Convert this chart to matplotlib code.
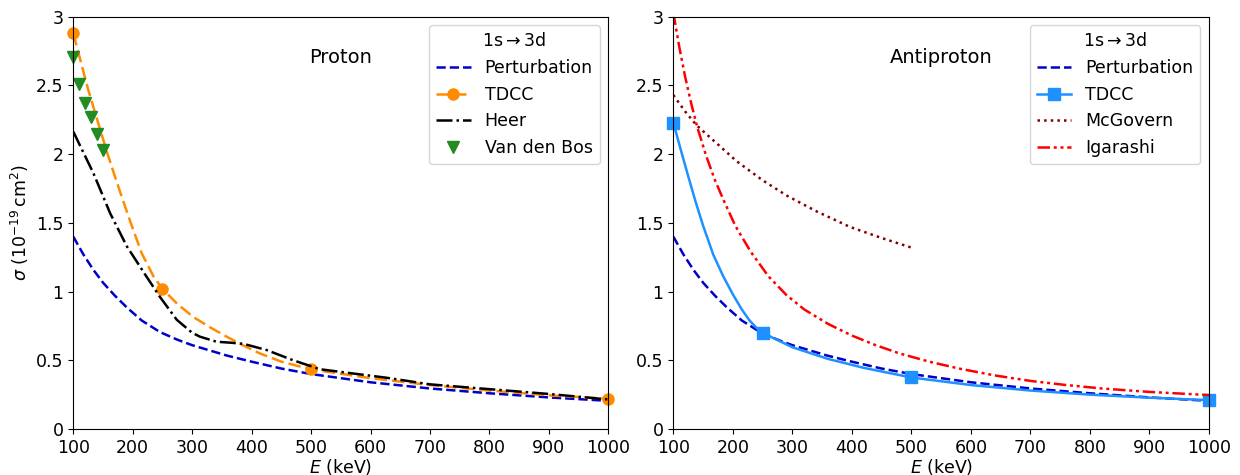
import matplotlib
matplotlib.use("Agg")
import matplotlib.pyplot as plt
from matplotlib.ticker import FuncFormatter

# ---------------- data ----------------
pert_E = [100, 117, 134, 150, 170, 190, 215, 246, 275, 300, 358, 400, 450, 500, 600, 700, 800, 900, 1000]
pert_s = [1.40, 1.27, 1.157, 1.065, 0.97, 0.885, 0.79, 0.705, 0.65, 0.61, 0.535, 0.49, 0.44, 0.40, 0.34, 0.295, 0.26, 0.23, 0.205]

# Proton TDCC (curve + computed points)
ptdcc_E = [100, 125, 157, 176, 195, 215, 235, 250, 275, 302, 330, 358, 385, 414, 450, 500, 600, 700, 800, 900, 1000]
ptdcc_s = [2.88, 2.47, 2.01, 1.76, 1.52, 1.28, 1.11, 1.02, 0.91, 0.815, 0.74, 0.672, 0.61, 0.55, 0.49, 0.434, 0.37, 0.32, 0.28, 0.245, 0.22]
ptdcc_pts = [100, 250, 500, 1000]

heer_E = [100, 134, 162, 190, 223, 246, 274, 300, 313, 341, 365, 386, 425, 470, 515, 560, 627, 700, 800, 900, 1000]
heer_s = [2.164, 1.86, 1.57, 1.33, 1.11, 0.96, 0.795, 0.70, 0.672, 0.635, 0.628, 0.62, 0.575, 0.50, 0.435, 0.41, 0.373, 0.325, 0.29, 0.255, 0.215]

vdb_E = [100, 110, 120, 130, 140, 150]
vdb_s = [2.71, 2.51, 2.37, 2.27, 2.15, 2.03]

# Antiproton
atdcc_E = [100, 112, 125, 137, 150, 167, 184, 200, 215, 228, 240, 250, 300, 360, 420, 500, 600, 700, 800, 900, 1000]
atdcc_s = [2.23, 2.04, 1.84, 1.66, 1.48, 1.27, 1.11, 0.98, 0.87, 0.79, 0.735, 0.70, 0.595, 0.51, 0.445, 0.375, 0.32, 0.28, 0.25, 0.228, 0.21]
atdcc_pts = [100, 250, 500, 1000]

mcg_E = [100, 120, 139, 170, 206, 250, 290, 340, 397, 450, 500]
mcg_s = [2.43, 2.31, 2.21, 2.09, 1.95, 1.81, 1.70, 1.585, 1.47, 1.39, 1.32]

iga_E = [100, 110, 120, 130, 140, 155, 170, 185, 204, 230, 260, 290, 320, 360, 400, 440, 480, 530, 580, 640, 700, 760, 820, 900, 1000]
iga_s = [3.03, 2.78, 2.56, 2.37, 2.20, 1.99, 1.81, 1.66, 1.48, 1.29, 1.11, 0.975, 0.87, 0.765, 0.68, 0.61, 0.55, 0.49, 0.44, 0.39, 0.35, 0.32, 0.295, 0.27, 0.247]

# ---------------- figure ----------------
fig = plt.figure(figsize=(12.4, 4.75), dpi=100)
axL = fig.add_axes([0.0591, 0.0968, 0.4315, 0.868])
axR = fig.add_axes([0.5430, 0.0968, 0.4320, 0.868])

fmt = FuncFormatter(lambda v, p: "%g" % v)
lw = 1.8

def style(ax):
    ax.set_xlim(100, 1000)
    ax.set_ylim(0, 3)
    ax.set_xticks(range(100, 1001, 100))
    ax.set_yticks([0, 0.5, 1, 1.5, 2, 2.5, 3])
    ax.yaxis.set_major_formatter(fmt)
    ax.tick_params(labelsize=12.5)
    ax.set_xlabel("$E$ (keV)", fontsize=12.5, labelpad=0.5)

# Left: proton
axL.plot(pert_E, pert_s, color="mediumblue", ls="--", lw=lw, label="Perturbation")
idx = [ptdcc_E.index(e) for e in ptdcc_pts]
axL.plot(ptdcc_E, ptdcc_s, color="darkorange", ls=(0, (5, 2)), lw=lw, marker="o",
         markersize=8, markevery=idx, label="TDCC", clip_on=False)
axL.plot(heer_E, heer_s, color="black", ls="-.", lw=lw, label="Heer")
axL.plot(vdb_E, vdb_s, color="forestgreen", ls="none", marker="v", markersize=8,
         label="Van den Bos", clip_on=False)
style(axL)
axL.set_ylabel(r"$\sigma$ ($10^{-19}\,\mathrm{cm}^2$)", fontsize=12.5)
axL.text(0.5, 0.9, "Proton", transform=axL.transAxes, ha="center", va="center", fontsize=14)
axL.legend(title=r"1s$\rightarrow$3d", loc="upper right", fontsize=12.5, title_fontsize=12.5)

# Right: antiproton
axR.plot(pert_E, pert_s, color="mediumblue", ls="--", lw=lw, label="Perturbation")
idx2 = [atdcc_E.index(e) for e in atdcc_pts]
axR.plot(atdcc_E, atdcc_s, color="dodgerblue", ls="-", lw=lw, marker="s",
         markersize=8, markevery=idx2, label="TDCC", clip_on=False)
axR.plot(mcg_E, mcg_s, color="maroon", ls=":", lw=lw, label="McGovern")
axR.plot(iga_E, iga_s, color="red", ls=(0, (5, 1.5, 1.2, 1.5, 1.2, 1.5)), lw=lw, label="Igarashi")
style(axR)
axR.text(0.5, 0.9, "Antiproton", transform=axR.transAxes, ha="center", va="center", fontsize=14)
axR.legend(title=r"1s$\rightarrow$3d", loc="upper right", fontsize=12.5, title_fontsize=12.5)

fig.savefig("out.png", dpi=100)
